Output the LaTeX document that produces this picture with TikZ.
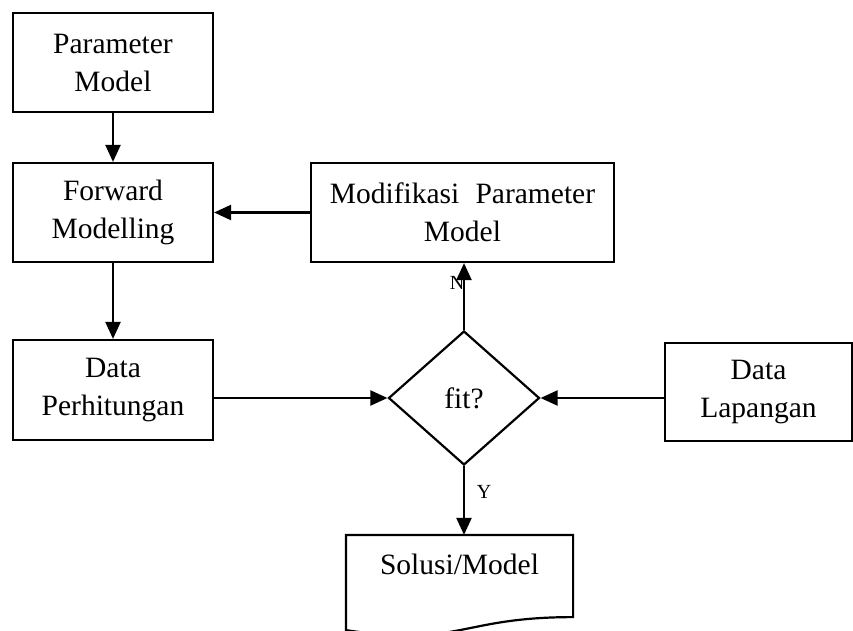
\documentclass[tikz,border=0pt]{standalone}
\usepackage{fontspec}
\setmainfont{Liberation Serif}
\usetikzlibrary{shapes.geometric,arrows.meta}
\begin{document}
\begin{tikzpicture}[x=1pt,y=1pt,
  line width=2.2pt,
  boxnode/.style={draw,rectangle,inner sep=0pt,align=center,
    font=\fontsize{29.5}{38}\selectfont},
  arr/.style={-{Triangle[length=17pt,width=15pt]}},
  lbl/.style={inner sep=0pt,font=\fontsize{20}{24}\selectfont}]
\useasboundingbox (0,0) rectangle (853,-631);
\node[boxnode,minimum width=200,minimum height=99] (pm) at (113,-62.5) {Parameter\\Model};
\node[boxnode,minimum width=200,minimum height=99] (fm) at (113,-212.5) {Forward\\Modelling};
\node[boxnode,minimum width=200,minimum height=100] (dp) at (113,-390) {Data\\Perhitungan};
\node[boxnode,minimum width=303,minimum height=99] (mp) at (462.5,-212.5) {Modifikasi\hspace{0.55em}Parameter\\Model};
\node[boxnode,diamond,minimum width=151,minimum height=134] (fit) at (464,-398) {fit?};
\node[boxnode,minimum width=187,minimum height=98] (dl) at (758.5,-392) {Data\\Lapangan};
\node[inner sep=0pt,minimum width=225,minimum height=100] (doc) at (459.5,-586) {};
\node[inner sep=0pt,font=\fontsize{29.5}{38}\selectfont,anchor=base] (doctext) at (459.5,-574) {Solusi/Model};
\draw (doc.north west) -- (doc.north east) -- ([yshift=20pt]doc.south east)
  .. controls ([yshift=20pt]doc.south) and ([yshift=-10.5pt]doc.south) .. ([yshift=7pt]doc.south west) -- cycle;
\draw[arr] (pm) -- (fm);
\draw[arr] (fm) -- (dp);
\draw[arr] (mp.west) -- (fm.east);
\draw[arr] (dp.east |- fit.west) -- (fit.west);
\draw[arr] (dl.west |- fit.east) -- (fit.east);
\draw[arr] (fit.north) -- (fit.north |- mp.south);
\draw[arr] (fit.south) -- (fit.south |- doc.north);
\node[lbl] (n) at (457,-283) {N};
\node[lbl] (y) at (484,-492) {Y};
\end{tikzpicture}
\end{document}
